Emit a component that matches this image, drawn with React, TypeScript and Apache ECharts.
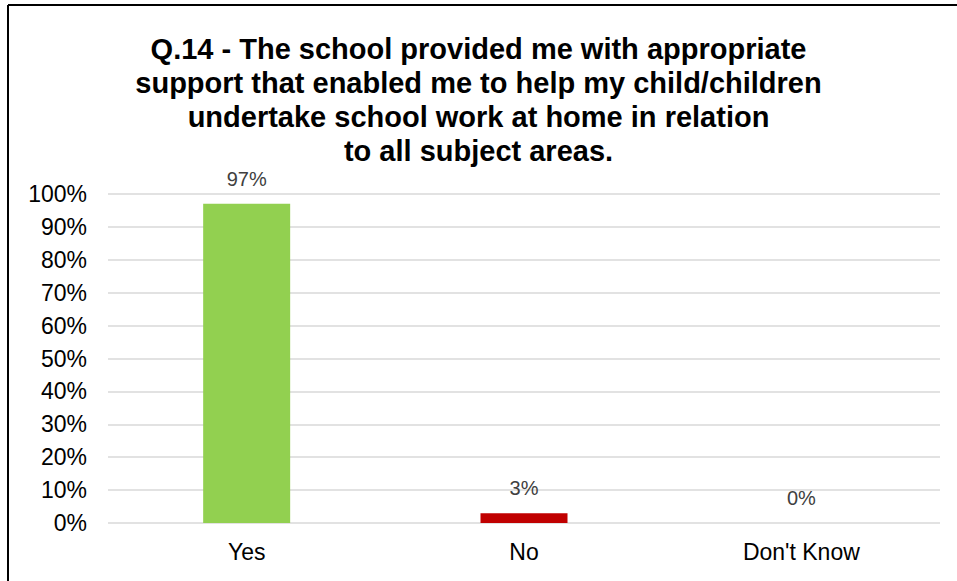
import React, { useEffect, useRef } from "react";
import * as echarts from "echarts";

const categories = ["Yes", "No", "Don't Know"];
const values = [97, 3, 0];
const barColors = ["#92D050", "#C00000", "#A5A5A5"];
const yTicks = [0, 10, 20, 30, 40, 50, 60, 70, 80, 90, 100];
const titleLines = [
  "Q.14 - The school provided me with appropriate",
  "support that enabled me to help my child/children",
  "undertake school work at home in relation",
  "to all subject areas.",
];

export default function App() {
  const ref = useRef<HTMLDivElement>(null);
  useEffect(() => {
    if (!ref.current) return;
    const chart = echarts.init(ref.current, undefined, { renderer: "svg" });
    chart.setOption({
      animation: false,
      backgroundColor: "#ffffff",
      title: {
        text: titleLines.join("\n"),
        left: "center",
        top: 27,
        textStyle: {
          fontFamily: "Liberation Sans, Arial, sans-serif",
          fontWeight: "bold",
          fontSize: 29,
          lineHeight: 34,
          color: "#000000",
        },
      },
      grid: { left: 108, right: 17, top: 194, bottom: 58 },
      xAxis: {
        type: "category",
        data: categories,
        axisLine: { show: false },
        axisTick: { show: false },
        axisLabel: {
          color: "#000000",
          fontSize: 23,
          fontFamily: "Liberation Sans, Arial, sans-serif",
          margin: 17,
        },
      },
      yAxis: {
        type: "value",
        min: yTicks[0],
        max: yTicks[yTicks.length - 1],
        interval: 10,
        axisLine: { show: false },
        axisTick: { show: false },
        splitLine: { lineStyle: { color: "#D9D9D9", width: 1.5 } },
        axisLabel: {
          color: "#000000",
          fontSize: 23,
          fontFamily: "Liberation Sans, Arial, sans-serif",
          margin: 21,
          formatter: "{value}%",
        },
      },
      series: [
        {
          type: "bar",
          barWidth: 87,
          data: values.map((v, i) => ({ value: v, itemStyle: { color: barColors[i] } })),
          label: {
            show: true,
            position: "top",
            distance: 15,
            color: "#404040",
            fontSize: 20,
            fontFamily: "Liberation Sans, Arial, sans-serif",
            formatter: "{c}%",
          },
        },
      ],
      graphic: [
        { type: "line", shape: { x1: 8, y1: 5, x2: 957, y2: 5 }, style: { stroke: "#000", lineWidth: 2 } },
        { type: "line", shape: { x1: 8, y1: 5, x2: 8, y2: 581 }, style: { stroke: "#000", lineWidth: 2 } },
      ],
    });
    return () => chart.dispose();
  }, []);
  return (
    <div
      ref={ref}
      style={{ position: "absolute", left: 0, top: 0, width: 957, height: 581 }}
    />
  );
}
